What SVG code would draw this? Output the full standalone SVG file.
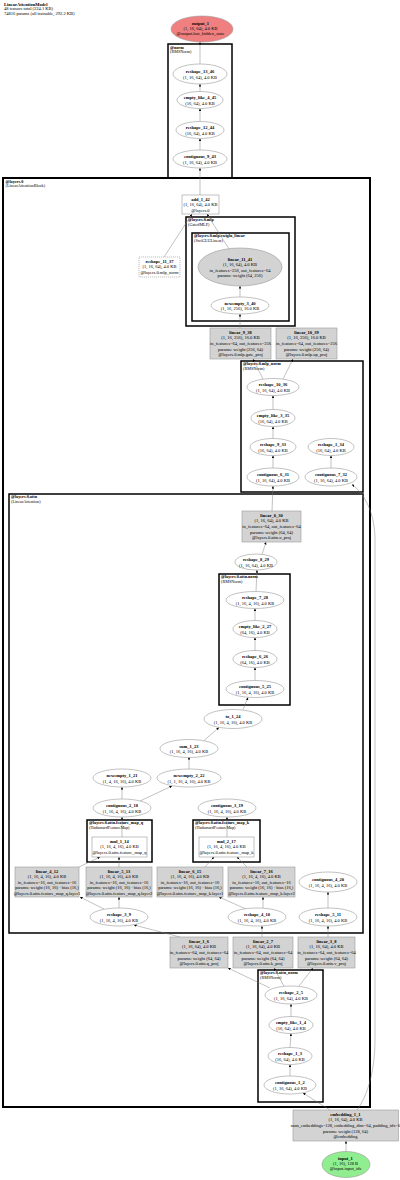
<svg xmlns="http://www.w3.org/2000/svg" width="400" height="1180" viewBox="0 0 400 1180">
<style>
text{font-family:"Liberation Serif","Times New Roman",serif;font-size:4.5px;fill:#000}
.c{text-anchor:middle}
.b{font-weight:bold}
.lb{font-size:4.2px}
.el{fill:#fff;stroke:#999;stroke-width:0.6}
.gr{fill:#d3d3d3;stroke:#999;stroke-width:0.6}
.bx{fill:#fff;stroke:#999;stroke-width:0.6}
.ds{fill:#fff;stroke:#999;stroke-width:0.6;stroke-dasharray:1.2,0.8}
.cl{fill:none;stroke:#000;stroke-width:1.5}
.cl0{fill:none;stroke:#000;stroke-width:2}
.e{fill:none;stroke:#777;stroke-width:0.45;marker-end:url(#ah)}
</style>
<defs>
<marker id="ah" viewBox="0 0 6 6" refX="6" refY="3" markerWidth="2.6" markerHeight="2.6" orient="auto" markerUnits="userSpaceOnUse"><path d="M0,0L6,3L0,6z" fill="#000"/></marker>
<clipPath id="k938"><rect x="208" y="328" width="65" height="31"/></clipPath>
<clipPath id="k1039"><rect x="274" y="328" width="65" height="31"/></clipPath>
<clipPath id="k030"><rect x="240" y="511" width="63" height="31"/></clipPath>
<clipPath id="k412"><rect x="13" y="867" width="70" height="30"/></clipPath>
<clipPath id="k513"><rect x="84" y="867" width="70" height="30"/></clipPath>
<clipPath id="k615"><rect x="155" y="867" width="70" height="30"/></clipPath>
<clipPath id="k716"><rect x="226" y="867" width="71" height="30"/></clipPath>
<clipPath id="k16"><rect x="168" y="937" width="62" height="31"/></clipPath>
<clipPath id="k27"><rect x="231" y="937" width="64" height="31"/></clipPath>
<clipPath id="k38"><rect x="296" y="937" width="61" height="31"/></clipPath>
</defs>
<rect width="400" height="1180" fill="#fff"/>

<g id="header">
<text x="4" y="5.5" class="b">LinearAttentionModel</text>
<text x="4" y="10">48 tensors total (224.1 KB)</text>
<text x="4" y="14.5">74816 params (all trainable, 292.2 KB)</text>
</g>

<g id="clusters">
<g id="cl_norm"><rect class="cl" x="168" y="44" width="64" height="134"/><text class="lb b" x="170" y="48.6">@norm</text><text class="lb" x="170" y="52.8">(RMSNorm)</text></g>
<g id="cl_layers0"><rect class="cl0" x="3" y="178" width="367" height="929"/><text class="lb b" x="5.5" y="182.6">@layers.0</text><text class="lb" x="5.5" y="186.8">(LinearAttentionBlock)</text></g>
<g id="cl_mlp"><rect class="cl" x="186" y="217" width="109" height="109"/><text class="lb b" x="188" y="221.4">@layers.0.mlp</text><text class="lb" x="188" y="225.6">(GatedMLP)</text></g>
<g id="cl_swiglu"><rect class="cl" x="192" y="233" width="97" height="88"/><text class="lb b" x="194" y="237.4">@layers.0.mlp.swiglu_linear</text><text class="lb" x="194" y="241.6">(SwiGLULinear)</text></g>
<g id="cl_mlp_norm"><rect class="cl" x="241" y="361" width="122" height="131"/><text class="lb b" x="243" y="365.4">@layers.0.mlp_norm</text><text class="lb" x="243" y="369.6">(RMSNorm)</text></g>
<g id="cl_attn"><rect class="cl" x="9" y="494" width="354" height="439"/><text class="lb b" x="11" y="498.4">@layers.0.attn</text><text class="lb" x="11" y="502.6">(LinearAttention)</text></g>
<g id="cl_attn_norm_inner"><rect class="cl" x="219" y="574" width="71" height="131"/><text class="lb b" x="221" y="578.4">@layers.0.attn.norm</text><text class="lb" x="221" y="582.6">(RMSNorm)</text></g>
<g id="cl_fmq"><rect class="cl" x="87" y="820" width="65" height="42"/><text class="lb b" x="89" y="824.4">@layers.0.attn.feature_map_q</text><text class="lb" x="89" y="828.6">(HadamardFeatureMap)</text></g>
<g id="cl_fmk"><rect class="cl" x="193" y="820" width="67" height="42"/><text class="lb b" x="195" y="824.4">@layers.0.attn.feature_map_k</text><text class="lb" x="195" y="828.6">(HadamardFeatureMap)</text></g>
<g id="cl_attn_norm"><rect class="cl" x="258" y="970" width="65" height="132"/><text class="lb b" x="260" y="974.4">@layers.0.attn_norm</text><text class="lb" x="260" y="978.6">(RMSNorm)</text></g>
</g>

<g id="connectors">
<path class="e" d="M200,64L200,42"/>
<path class="e" d="M200,91.5L200,84"/>
<path class="e" d="M200,121.5L200,108.5"/>
<path class="e" d="M200,150L200,138.5"/>
<path class="e" d="M200,195L200,168"/>
<path class="e" d="M229,249L207,214"/>
<path class="e" d="M164,257L192,214"/>
<path class="e" d="M240,297L240,286"/>
<path class="e" d="M240,328L240,314"/>
<path class="e" d="M263,379L253,359"/>
<path class="e" d="M283,379L293,359"/>
<path class="e" d="M273,409.5L273,395.5"/>
<path class="e" d="M273,438.5L273,426.5"/>
<path class="e" d="M273,468L273,455.5"/>
<path class="e" d="M331,468L331,455.5"/>
<path class="e" d="M272,511L273,486"/>
<path class="e" d="M262,554.5L266,542"/>
<path class="e" d="M256,591.5L257,570"/>
<path class="e" d="M255,620.5L255,608.5"/>
<path class="e" d="M255,650.5L255,637.5"/>
<path class="e" d="M255,680.5L255,667.5"/>
<path class="e" d="M243,709.5L248,697.5"/>
<path class="e" d="M204,740.5L219,727.5"/>
<path class="e" d="M189,769L189,757"/>
<path class="e" d="M122,799L122,787"/>
<path class="e" d="M140,801L172,786"/>
<path class="e" d="M122,837L122,817"/>
<path class="e" d="M227,837L227,817"/>
<path class="e" d="M79,867L100,857"/>
<path class="e" d="M119,867L119,857"/>
<path class="e" d="M205,867L214,857"/>
<path class="e" d="M247,867L237,857"/>
<path class="e" d="M104,909L80,897"/>
<path class="e" d="M119,908L119,897"/>
<path class="e" d="M246,909L219,897"/>
<path class="e" d="M263,908L263,897"/>
<path class="e" d="M328,908L328,892"/>
<path class="e" d="M180,937L134,925"/>
<path class="e" d="M262,937L262,926"/>
<path class="e" d="M328,937L328,926"/>
<path class="e" d="M270,988L228,968"/>
<path class="e" d="M284,986L274,968"/>
<path class="e" d="M299,986L313,968"/>
<path class="e" d="M291,1016.5L291,1004"/>
<path class="e" d="M290,1047.5L291,1033.5"/>
<path class="e" d="M290,1076L290,1064.5"/>
<path class="e" d="M330,1110L303,1093"/>
<path class="e" d="M357,1110C368,1095 375,1070 375,1040L375,540C375,515 366,495 352,484.5"/>
<path class="e" d="M346,1151.5L346,1141"/>
</g>

<g id="output_1"><ellipse cx="202" cy="29" rx="31" ry="13" fill="#f08080" stroke="#999" stroke-width="0.6"/><text class="c b" x="200.5" y="25">output_1</text><text class="c" x="200.5" y="30.2">(1, 16, 64), 4.0 KB</text><text class="c" x="200.5" y="35.4">@output.last_hidden_state</text></g>

<g id="reshape_13_46"><ellipse class="el" cx="200" cy="74" rx="27" ry="10"/><text class="c b" x="200" y="73.2">reshape_13_46</text><text class="c" x="200" y="78.8">(1, 16, 64), 4.0 KB</text></g>
<g id="empty_like_4_45"><ellipse class="el" cx="200" cy="100" rx="23" ry="8.5"/><text class="c b" x="200" y="99.2">empty_like_4_45</text><text class="c" x="200" y="104.8">(16, 64), 4.0 KB</text></g>
<g id="reshape_12_44"><ellipse class="el" cx="200" cy="130" rx="24" ry="8.5"/><text class="c b" x="200" y="129.2">reshape_12_44</text><text class="c" x="200" y="134.8">(16, 64), 4.0 KB</text></g>
<g id="contiguous_9_43"><ellipse class="el" cx="200" cy="159" rx="27" ry="9"/><text class="c b" x="200" y="158.2">contiguous_9_43</text><text class="c" x="200" y="163.8">(1, 16, 64), 4.0 KB</text></g>

<g id="add_1_42"><rect class="bx" x="182" y="195" width="37" height="19"/><text class="c b" x="200.5" y="200.5">add_1_42</text><text class="c" x="200.5" y="206">(1, 16, 64), 4.0 KB</text><text class="c" x="200.5" y="211.5">@layers.0</text></g>
<g id="reshape_11_37"><rect class="ds" x="139" y="257" width="41" height="20"/><text class="c b" x="159.5" y="262.5">reshape_11_37</text><text class="c" x="159.5" y="268">(1, 16, 64), 4.0 KB</text><text class="c" x="159.5" y="273.5">@layers.0.mlp_norm</text></g>

<g id="linear_11_41"><ellipse class="gr" cx="240" cy="267" rx="42" ry="19"/><text class="c b" x="240" y="260.6">linear_11_41</text><text class="c" x="240" y="266.2">(1, 16, 64), 4.0 KB</text><text class="c" x="240" y="271.8">in_features=256, out_features=64</text><text class="c" x="240" y="277.4">params: weight (64, 256)</text></g>
<g id="newempty_3_40"><ellipse class="el" cx="240" cy="305.5" rx="29" ry="8.5"/><text class="c b" x="240" y="304.7">newempty_3_40</text><text class="c" x="240" y="310.3">(1, 16, 256), 16.0 KB</text></g>

<g id="linear_9_38"><rect class="gr" x="210" y="328" width="61" height="31"/><g clip-path="url(#k938)"><text class="c b" x="240.5" y="333.8">linear_9_38</text><text class="c" x="240.5" y="339.4">(1, 16, 256), 16.0 KB</text><text class="c" x="240.5" y="345">in_features=64, out_features=256</text><text class="c" x="240.5" y="350.6">params: weight (256, 64)</text><text class="c" x="240.5" y="356.2">@layers.0.mlp.gate_proj</text></g></g>
<g id="linear_10_39"><rect class="gr" x="276" y="328" width="61" height="31"/><g clip-path="url(#k1039)"><text class="c b" x="306.5" y="333.8">linear_10_39</text><text class="c" x="306.5" y="339.4">(1, 16, 256), 16.0 KB</text><text class="c" x="306.5" y="345">in_features=64, out_features=256</text><text class="c" x="306.5" y="350.6">params: weight (256, 64)</text><text class="c" x="306.5" y="356.2">@layers.0.mlp.up_proj</text></g></g>

<g id="reshape_10_36"><ellipse class="el" cx="273" cy="387" rx="26" ry="8.5"/><text class="c b" x="273" y="386.2">reshape_10_36</text><text class="c" x="273" y="391.8">(1, 16, 64), 4.0 KB</text></g>
<g id="empty_like_3_35"><ellipse class="el" cx="273" cy="418" rx="22" ry="8.5"/><text class="c b" x="273" y="417.2">empty_like_3_35</text><text class="c" x="273" y="422.8">(16, 64), 4.0 KB</text></g>
<g id="reshape_9_33"><ellipse class="el" cx="273" cy="447" rx="23" ry="8.5"/><text class="c b" x="273" y="446.2">reshape_9_33</text><text class="c" x="273" y="451.8">(16, 64), 4.0 KB</text></g>
<g id="reshape_1_34"><ellipse class="el" cx="331" cy="447" rx="23" ry="8.5"/><text class="c b" x="331" y="446.2">reshape_1_34</text><text class="c" x="331" y="451.8">(16, 64), 4.0 KB</text></g>
<g id="contiguous_6_31"><ellipse class="el" cx="273" cy="477" rx="26" ry="9"/><text class="c b" x="273" y="476.2">contiguous_6_31</text><text class="c" x="273" y="481.8">(1, 16, 64), 4.0 KB</text></g>
<g id="contiguous_7_32"><ellipse class="el" cx="331" cy="477" rx="26" ry="9"/><text class="c b" x="331" y="476.2">contiguous_7_32</text><text class="c" x="331" y="481.8">(1, 16, 64), 4.0 KB</text></g>

<g id="linear_0_30"><rect class="gr" x="242" y="511" width="59" height="31"/><g clip-path="url(#k030)"><text class="c b" x="271.5" y="516.8">linear_0_30</text><text class="c" x="271.5" y="522.4">(1, 16, 64), 4.0 KB</text><text class="c" x="271.5" y="528">in_features=64, out_features=64</text><text class="c" x="271.5" y="533.6">params: weight (64, 64)</text><text class="c" x="271.5" y="539.2">@layers.0.attn.o_proj</text></g></g>
<g id="reshape_8_29"><ellipse class="el" cx="256" cy="562" rx="21" ry="8"/><text class="c b" x="256" y="561.2">reshape_8_29</text><text class="c" x="256" y="566.8">(1, 16, 64), 4.0 KB</text></g>

<g id="reshape_7_28"><ellipse class="el" cx="255" cy="600" rx="29" ry="8.5"/><text class="c b" x="255" y="599.2">reshape_7_28</text><text class="c" x="255" y="604.8">(1, 16, 4, 16), 4.0 KB</text></g>
<g id="empty_like_2_27"><ellipse class="el" cx="255" cy="629" rx="22" ry="8.5"/><text class="c b" x="255" y="628.2">empty_like_2_27</text><text class="c" x="255" y="633.8">(64, 16), 4.0 KB</text></g>
<g id="reshape_6_26"><ellipse class="el" cx="255" cy="659" rx="22" ry="8.5"/><text class="c b" x="255" y="658.2">reshape_6_26</text><text class="c" x="255" y="663.8">(64, 16), 4.0 KB</text></g>
<g id="contiguous_5_25"><ellipse class="el" cx="255" cy="689" rx="29" ry="8.5"/><text class="c b" x="255" y="688.2">contiguous_5_25</text><text class="c" x="255" y="693.8">(1, 16, 4, 16), 4.0 KB</text></g>

<g id="to_1_24"><ellipse class="el" cx="233" cy="719" rx="29" ry="9.5"/><text class="c b" x="233" y="718.2">to_1_24</text><text class="c" x="233" y="723.8">(1, 16, 4, 16), 4.0 KB</text></g>
<g id="sum_1_23"><ellipse class="el" cx="189" cy="748.5" rx="29" ry="9"/><text class="c b" x="189" y="747.7">sum_1_23</text><text class="c" x="189" y="753.3">(1, 16, 4, 16), 4.0 KB</text></g>
<g id="newempty_1_21"><ellipse class="el" cx="122" cy="778" rx="29" ry="9"/><text class="c b" x="122" y="777.2">newempty_1_21</text><text class="c" x="122" y="782.8">(1, 4, 16, 16), 4.0 KB</text></g>
<g id="newempty_2_22"><ellipse class="el" cx="189" cy="778" rx="32" ry="9"/><text class="c b" x="189" y="777.2">newempty_2_22</text><text class="c" x="189" y="782.8">(1, 1, 16, 4, 16), 4.0 KB</text></g>
<g id="contiguous_2_18"><ellipse class="el" cx="122" cy="808" rx="29" ry="9"/><text class="c b" x="122" y="807.2">contiguous_2_18</text><text class="c" x="122" y="812.8">(1, 16, 4, 16), 4.0 KB</text></g>
<g id="contiguous_3_19"><ellipse class="el" cx="227" cy="808" rx="29" ry="9"/><text class="c b" x="227" y="807.2">contiguous_3_19</text><text class="c" x="227" y="812.8">(1, 16, 4, 16), 4.0 KB</text></g>

<g id="mul_1_14"><rect class="bx" x="92" y="837" width="55" height="20"/><text class="c b" x="119.5" y="842.5">mul_1_14</text><text class="c" x="119.5" y="848">(1, 16, 4, 16), 4.0 KB</text><text class="c" x="119.5" y="853.5">@layers.0.attn.feature_map_q</text></g>
<g id="mul_2_17"><rect class="bx" x="199" y="837" width="55" height="20"/><text class="c b" x="226.5" y="842.5">mul_2_17</text><text class="c" x="226.5" y="848">(1, 16, 4, 16), 4.0 KB</text><text class="c" x="226.5" y="853.5">@layers.0.attn.feature_map_k</text></g>

<g id="linear_4_12"><rect class="gr" x="15" y="867" width="64" height="30"/><g clip-path="url(#k412)"><text class="c b" x="47" y="872.5">linear_4_12</text><text class="c" x="47" y="878.1">(1, 16, 4, 16), 4.0 KB</text><text class="c" x="47" y="883.7">in_features=16, out_features=16</text><text class="c" x="47" y="889.3">params: weight (16, 16) · bias (16,)</text><text class="c" x="47" y="894.9">@layers.0.attn.feature_map_q.layer1</text></g></g>
<g id="linear_5_13"><rect class="gr" x="86" y="867" width="66" height="30"/><g clip-path="url(#k513)"><text class="c b" x="119" y="872.5">linear_5_13</text><text class="c" x="119" y="878.1">(1, 16, 4, 16), 4.0 KB</text><text class="c" x="119" y="883.7">in_features=16, out_features=16</text><text class="c" x="119" y="889.3">params: weight (16, 16) · bias (16,)</text><text class="c" x="119" y="894.9">@layers.0.attn.feature_map_q.layer2</text></g></g>
<g id="linear_6_15"><rect class="gr" x="157" y="867" width="66" height="30"/><g clip-path="url(#k615)"><text class="c b" x="190" y="872.5">linear_6_15</text><text class="c" x="190" y="878.1">(1, 16, 4, 16), 4.0 KB</text><text class="c" x="190" y="883.7">in_features=16, out_features=16</text><text class="c" x="190" y="889.3">params: weight (16, 16) · bias (16,)</text><text class="c" x="190" y="894.9">@layers.0.attn.feature_map_k.layer1</text></g></g>
<g id="linear_7_16"><rect class="gr" x="228" y="867" width="67" height="30"/><g clip-path="url(#k716)"><text class="c b" x="261.5" y="872.5">linear_7_16</text><text class="c" x="261.5" y="878.1">(1, 16, 4, 16), 4.0 KB</text><text class="c" x="261.5" y="883.7">in_features=16, out_features=16</text><text class="c" x="261.5" y="889.3">params: weight (16, 16) · bias (16,)</text><text class="c" x="261.5" y="894.9">@layers.0.attn.feature_map_k.layer2</text></g></g>

<g id="contiguous_4_20"><ellipse class="el" cx="328" cy="882" rx="29" ry="10"/><text class="c b" x="328" y="881.2">contiguous_4_20</text><text class="c" x="328" y="886.8">(1, 16, 4, 16), 4.0 KB</text></g>
<g id="reshape_3_9"><ellipse class="el" cx="119" cy="917" rx="29" ry="9"/><text class="c b" x="119" y="916.2">reshape_3_9</text><text class="c" x="119" y="921.8">(1, 16, 4, 16), 4.0 KB</text></g>
<g id="reshape_4_10"><ellipse class="el" cx="257" cy="917" rx="29" ry="9"/><text class="c b" x="257" y="916.2">reshape_4_10</text><text class="c" x="257" y="921.8">(1, 16, 4, 16), 4.0 KB</text></g>
<g id="reshape_5_11"><ellipse class="el" cx="328" cy="917" rx="29" ry="9"/><text class="c b" x="328" y="916.2">reshape_5_11</text><text class="c" x="328" y="921.8">(1, 16, 4, 16), 4.0 KB</text></g>

<g id="linear_1_6"><rect class="gr" x="170" y="937" width="58" height="31"/><g clip-path="url(#k16)"><text class="c b" x="199" y="942.8">linear_1_6</text><text class="c" x="199" y="948.4">(1, 16, 64), 4.0 KB</text><text class="c" x="199" y="954">in_features=64, out_features=64</text><text class="c" x="199" y="959.6">params: weight (64, 64)</text><text class="c" x="199" y="965.2">@layers.0.attn.q_proj</text></g></g>
<g id="linear_2_7"><rect class="gr" x="233" y="937" width="60" height="31"/><g clip-path="url(#k27)"><text class="c b" x="263" y="942.8">linear_2_7</text><text class="c" x="263" y="948.4">(1, 16, 64), 4.0 KB</text><text class="c" x="263" y="954">in_features=64, out_features=64</text><text class="c" x="263" y="959.6">params: weight (64, 64)</text><text class="c" x="263" y="965.2">@layers.0.attn.k_proj</text></g></g>
<g id="linear_3_8"><rect class="gr" x="298" y="937" width="57" height="31"/><g clip-path="url(#k38)"><text class="c b" x="326.5" y="942.8">linear_3_8</text><text class="c" x="326.5" y="948.4">(1, 16, 64), 4.0 KB</text><text class="c" x="326.5" y="954">in_features=64, out_features=64</text><text class="c" x="326.5" y="959.6">params: weight (64, 64)</text><text class="c" x="326.5" y="965.2">@layers.0.attn.v_proj</text></g></g>

<g id="reshape_2_5"><ellipse class="el" cx="291" cy="995" rx="26" ry="9"/><text class="c b" x="291" y="994.2">reshape_2_5</text><text class="c" x="291" y="999.8">(1, 16, 64), 4.0 KB</text></g>
<g id="empty_like_1_4"><ellipse class="el" cx="291" cy="1025" rx="22" ry="8.5"/><text class="c b" x="291" y="1024.2">empty_like_1_4</text><text class="c" x="291" y="1029.8">(16, 64), 4.0 KB</text></g>
<g id="reshape_1_3"><ellipse class="el" cx="290" cy="1056" rx="22" ry="8.5"/><text class="c b" x="290" y="1055.2">reshape_1_3</text><text class="c" x="290" y="1060.8">(16, 64), 4.0 KB</text></g>
<g id="contiguous_1_2"><ellipse class="el" cx="290" cy="1085" rx="26" ry="9"/><text class="c b" x="290" y="1084.2">contiguous_1_2</text><text class="c" x="290" y="1089.8">(1, 16, 64), 4.0 KB</text></g>

<g id="embedding_1_1"><rect class="gr" x="293" y="1110" width="105.5" height="31"/><text class="c b" x="345.5" y="1115.8">embedding_1_1</text><text class="c" x="345.5" y="1121.4">(1, 16, 64), 4.0 KB</text><text class="c" x="345.5" y="1127">num_embeddings=128, embedding_dim=64, padding_idx=0</text><text class="c" x="345.5" y="1132.6">params: weight (128, 64)</text><text class="c" x="345.5" y="1138.2">@embedding</text></g>

<g id="input_1"><ellipse cx="346" cy="1164.5" rx="24" ry="13" fill="#90ee90" stroke="#999" stroke-width="0.6"/><text class="c b" x="345.5" y="1159.8">input_1</text><text class="c" x="345.5" y="1165">(1, 16), 128 B</text><text class="c" x="345.5" y="1170.2">@input.input_ids</text></g>
</svg>
